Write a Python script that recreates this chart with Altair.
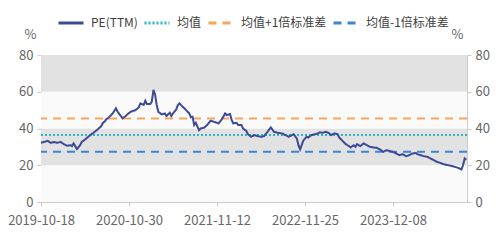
import altair as alt
import pandas as pd

# ---------------- data ----------------
start_date = "2019-10-18"
end_date = "2024-10-21"
# weeks elapsed since start_date for each PE observation
weeks = [0, 2, 4, 6, 8, 10, 12, 14, 16, 18, 19, 20, 21, 22, 24, 25, 27, 29, 31, 33,
         35, 37, 38, 39, 40, 41, 43, 44, 46, 47, 49, 50, 52, 53,
         55, 58, 60, 61, 63, 64, 65, 67, 68, 69, 70, 71, 72, 74, 76, 77, 79, 80, 81, 83,
         84, 85, 87, 88, 90, 91, 92, 93, 94, 95, 97, 98, 100, 102, 104, 106,
         109, 111, 113, 114, 116, 117, 118, 120, 121, 123, 124, 126, 127, 129, 131, 133,
         135, 137, 139, 141, 143, 145, 148, 150, 152, 154, 155, 157, 158, 159, 160,
         161, 163, 164, 166, 168, 170, 171, 173, 175, 177, 178, 180, 182, 183, 185, 187,
         189, 190, 192, 193, 194, 196, 198, 200, 202, 204, 206, 208, 210, 212, 214,
         216, 218, 220, 222, 224, 226, 228, 230, 231, 233, 235, 237, 239, 241, 243, 245,
         247, 250, 252, 254, 256, 258, 259, 260, 261]
pe = [32.2, 32.7, 33.3, 32.2, 32.6, 32.2, 32.7, 31.5, 30.6, 30.9, 30.4, 31.9, 30.4, 28.8, 30.9, 32.7, 34.0, 35.5, 36.9, 38.2,
      39.7, 41.3, 43.1, 43.7, 45.0, 45.5, 47.3, 48.2, 51.0, 49.1, 46.8, 45.5, 46.8, 47.7,
      49.1, 50.0, 51.5, 53.7, 52.8, 55.1, 53.3, 53.3, 54.6, 61.0, 58.5, 52.8, 49.1, 47.7, 48.2, 46.8, 48.6, 46.8, 48.2, 50.4,
      52.8, 53.7, 51.8, 51.0, 49.1, 48.2, 46.1, 46.4, 41.9, 43.1, 39.1, 40.0, 40.4, 41.9, 44.2, 43.7,
      42.8, 45.0, 48.2, 47.3, 47.9, 44.6, 42.8, 43.1, 41.9, 41.9, 40.0, 38.7, 36.9, 35.5, 36.4, 35.9,
      35.5, 35.9, 38.2, 40.6, 38.2, 37.7, 37.3, 36.4, 35.5, 36.4, 36.9, 34.6, 30.9, 28.6, 31.0,
      33.5, 35.5, 35.1, 36.4, 36.9, 37.3, 37.9, 37.7, 38.2, 37.3, 36.4, 37.3, 36.9, 35.1, 33.3, 31.5,
      30.4, 29.7, 30.9, 30.0, 31.5, 30.4, 31.9, 30.9, 30.0, 29.7, 29.5, 28.6, 27.3, 28.2, 27.8,
      27.3, 26.4, 25.5, 26.0, 24.9, 25.5, 26.4, 26.7, 26.0, 25.5, 24.9, 24.6, 23.7, 22.8, 21.8, 21.3,
      20.6, 20.0, 19.6, 19.1, 18.6, 17.7, 20.0, 23.7, 23.1]

series_names = ["PE(TTM)", "均值", "均值+1倍标准差", "均值-1倍标准差"]
stat_names = ["均值", "均值+1倍标准差", "均值-1倍标准差"]
stat_values = [36.4, 45.5, 27.3]
series_colors = ["#3d4a96", "#2bb3c9", "#f6a55a", "#3b85d5"]
series_dashes = [[1, 0], [2, 2], [8, 6], [8, 6]]

band_lo = [0, 20, 40, 60]
band_hi = [20, 40, 60, 80]
band_fill = ["#fafafa", "#e2e2e2", "#fafafa", "#e2e2e2"]

tick_dates = [(2019, 10, 18), (2020, 10, 30), (2021, 11, 12), (2022, 11, 25), (2023, 12, 8)]
y_ticks = [0, 20, 40, 60, 80]

FONT = "Noto Sans CJK SC"
LABEL_COLOR = "#666666"
AXIS_COLOR = "#cccccc"

# ---------------- tables ----------------
start_ts = pd.Timestamp(start_date)
end_ts = pd.Timestamp(end_date)
pe_df = pd.DataFrame({
    "date": [start_ts + pd.Timedelta(days=7 * w) for w in weeks],
    "value": pe,
    "series": "PE(TTM)",
})
stat_df = pd.DataFrame({"series": stat_names, "value": stat_values})
band_df = pd.DataFrame({
    "lo": band_lo, "hi": band_hi, "fill": band_fill,
    "x0": [start_ts] * 4, "x1": [end_ts] * 4,
})


def dt(ts):
    return alt.DateTime(year=ts.year, month=ts.month, date=ts.day)


x_scale = alt.Scale(domain=[dt(start_ts), dt(end_ts)])
y_scale = alt.Scale(domain=[0, 80], nice=False, zero=True)

x_axis = alt.Axis(
    values=[alt.DateTime(year=a, month=b, date=c) for a, b, c in tick_dates],
    format="%Y-%m-%d", title=None, grid=False,
    domainColor=AXIS_COLOR, tickColor=AXIS_COLOR, tickSize=4,
    labelColor=LABEL_COLOR, labelFontSize=13, labelFont=FONT, labelPadding=8,
    labelFlush=False, labelOverlap=False,
)


def y_axis(orient, title_x):
    return alt.Axis(
        orient=orient, values=y_ticks, title="%", titleAngle=0, titleX=title_x, titleY=-21,
        titleAlign="center", titleBaseline="middle", titleColor=LABEL_COLOR,
        titleFontWeight="normal", titleFontSize=13, titleFont=FONT,
        grid=False, domainColor=AXIS_COLOR, tickColor=AXIS_COLOR, tickSize=4,
        labelColor=LABEL_COLOR, labelFontSize=13, labelFont=FONT, labelPadding=4,
        labelOverlap=False, labelFlush=False,
    )


left_axis = y_axis("left", -11)

legend_cfg = dict(
    title=None, orient="none", legendX=16, legendY=-46, direction="horizontal",
    symbolType="stroke", symbolSize=625, symbolStrokeWidth=3,
    labelFont=FONT, labelFontSize=12, labelColor="#404040",
    columnPadding=0, labelOffset=6,
)

color_enc = alt.Color(
    "series:N",
    scale=alt.Scale(domain=series_names, range=series_colors),
    legend=alt.Legend(**legend_cfg),
)
dash_enc = alt.StrokeDash(
    "series:N",
    scale=alt.Scale(domain=series_names, range=series_dashes),
    legend=alt.Legend(**legend_cfg),
)

bands = alt.Chart(band_df).mark_rect().encode(
    x=alt.X("x0:T", scale=x_scale, axis=x_axis),
    x2="x1:T",
    y=alt.Y("lo:Q", scale=y_scale, axis=left_axis),
    y2="hi:Q",
    fill=alt.Fill("fill:N", scale=None, legend=None),
)

rules = alt.Chart(stat_df).mark_rule(strokeWidth=2).encode(
    y=alt.Y("value:Q", scale=y_scale, axis=left_axis),
    color=color_enc,
    strokeDash=dash_enc,
)

line = alt.Chart(pe_df).mark_line(strokeWidth=2).encode(
    x=alt.X("date:T", scale=x_scale, axis=x_axis),
    y=alt.Y("value:Q", scale=y_scale, axis=left_axis),
    color=color_enc,
    strokeDash=dash_enc,
)

right = alt.Chart(band_df).mark_rule(opacity=0).encode(
    y=alt.Y("lo:Q", scale=y_scale, axis=y_axis("right", -10)),
)

left_layers = alt.layer(bands, rules, line)
chart = alt.layer(left_layers, right).resolve_axis(y="independent").properties(
    width=426, height=147,
    autosize=alt.AutoSizeParams(type="none"),
    padding={"left": 41, "top": 55, "right": 37, "bottom": 38},
    background="white",
).configure_view(stroke=None)

chart.save("out.html", embed_options={"renderer": "svg", "actions": False})
